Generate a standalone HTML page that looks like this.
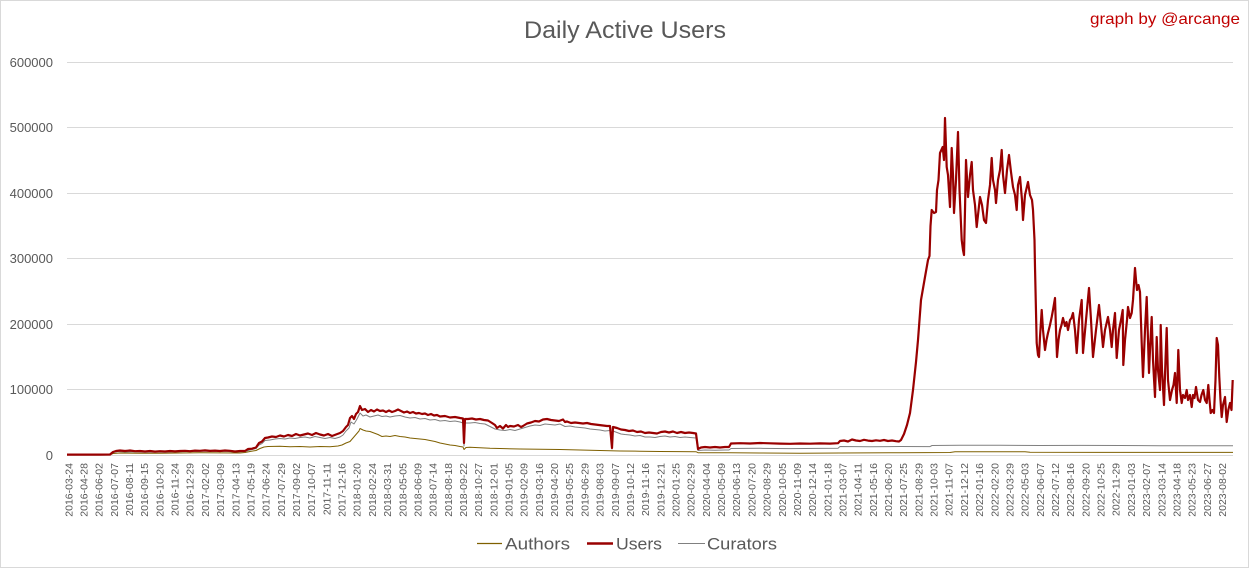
<!DOCTYPE html>
<html><head><meta charset="utf-8"><style>
html,body{margin:0;padding:0;background:#fff;}
svg{display:block;}
text{font-family:"Liberation Sans",sans-serif;}
</style></head><body>
<svg width="1249" height="568" viewBox="0 0 1249 568" xmlns="http://www.w3.org/2000/svg">
<rect x="0.5" y="0.5" width="1248" height="567" fill="#fff" stroke="#d9d9d9" stroke-width="1"/>
<text x="625" y="38" font-size="24" fill="#595959" text-anchor="middle" textLength="202" lengthAdjust="spacingAndGlyphs">Daily Active Users</text>
<text x="1090" y="24" font-size="16" fill="#c00000" textLength="150" lengthAdjust="spacingAndGlyphs">graph by @arcange</text>
<g stroke="#d9d9d9" stroke-width="1">
<line x1="67" y1="62.5" x2="1233" y2="62.5"/>
<line x1="67" y1="127.5" x2="1233" y2="127.5"/>
<line x1="67" y1="193.5" x2="1233" y2="193.5"/>
<line x1="67" y1="258.5" x2="1233" y2="258.5"/>
<line x1="67" y1="324.5" x2="1233" y2="324.5"/>
<line x1="67" y1="389.5" x2="1233" y2="389.5"/>
<line x1="67" y1="455.5" x2="1233" y2="455.5"/>
</g>
<g font-size="13" fill="#595959" text-anchor="end">
<text x="53" y="67">600000</text>
<text x="53" y="132">500000</text>
<text x="53" y="198">400000</text>
<text x="53" y="263">300000</text>
<text x="53" y="329">200000</text>
<text x="53" y="394">100000</text>
<text x="53" y="460">0</text>
</g>
<g id="xl" font-size="10.5" fill="#595959" text-anchor="end">
<text transform="translate(72.3,463) rotate(-90)">2016-03-24</text>
<text transform="translate(87.5,463) rotate(-90)">2016-04-28</text>
<text transform="translate(102.7,463) rotate(-90)">2016-06-02</text>
<text transform="translate(117.8,463) rotate(-90)">2016-07-07</text>
<text transform="translate(133.0,463) rotate(-90)">2016-08-11</text>
<text transform="translate(148.2,463) rotate(-90)">2016-09-15</text>
<text transform="translate(163.4,463) rotate(-90)">2016-10-20</text>
<text transform="translate(178.6,463) rotate(-90)">2016-11-24</text>
<text transform="translate(193.7,463) rotate(-90)">2016-12-29</text>
<text transform="translate(208.9,463) rotate(-90)">2017-02-02</text>
<text transform="translate(224.1,463) rotate(-90)">2017-03-09</text>
<text transform="translate(239.3,463) rotate(-90)">2017-04-13</text>
<text transform="translate(254.5,463) rotate(-90)">2017-05-19</text>
<text transform="translate(269.6,463) rotate(-90)">2017-06-24</text>
<text transform="translate(284.8,463) rotate(-90)">2017-07-29</text>
<text transform="translate(300.0,463) rotate(-90)">2017-09-02</text>
<text transform="translate(315.2,463) rotate(-90)">2017-10-07</text>
<text transform="translate(330.4,463) rotate(-90)">2017-11-11</text>
<text transform="translate(345.5,463) rotate(-90)">2017-12-16</text>
<text transform="translate(360.7,463) rotate(-90)">2018-01-20</text>
<text transform="translate(375.9,463) rotate(-90)">2018-02-24</text>
<text transform="translate(391.1,463) rotate(-90)">2018-03-31</text>
<text transform="translate(406.3,463) rotate(-90)">2018-05-05</text>
<text transform="translate(421.4,463) rotate(-90)">2018-06-09</text>
<text transform="translate(436.6,463) rotate(-90)">2018-07-14</text>
<text transform="translate(451.8,463) rotate(-90)">2018-08-18</text>
<text transform="translate(467.0,463) rotate(-90)">2018-09-22</text>
<text transform="translate(482.2,463) rotate(-90)">2018-10-27</text>
<text transform="translate(497.3,463) rotate(-90)">2018-12-01</text>
<text transform="translate(512.5,463) rotate(-90)">2019-01-05</text>
<text transform="translate(527.7,463) rotate(-90)">2019-02-09</text>
<text transform="translate(542.9,463) rotate(-90)">2019-03-16</text>
<text transform="translate(558.1,463) rotate(-90)">2019-04-20</text>
<text transform="translate(573.2,463) rotate(-90)">2019-05-25</text>
<text transform="translate(588.4,463) rotate(-90)">2019-06-29</text>
<text transform="translate(603.6,463) rotate(-90)">2019-08-03</text>
<text transform="translate(618.8,463) rotate(-90)">2019-09-07</text>
<text transform="translate(634.0,463) rotate(-90)">2019-10-12</text>
<text transform="translate(649.1,463) rotate(-90)">2019-11-16</text>
<text transform="translate(664.3,463) rotate(-90)">2019-12-21</text>
<text transform="translate(679.5,463) rotate(-90)">2020-01-25</text>
<text transform="translate(694.7,463) rotate(-90)">2020-02-29</text>
<text transform="translate(709.9,463) rotate(-90)">2020-04-04</text>
<text transform="translate(725.0,463) rotate(-90)">2020-05-09</text>
<text transform="translate(740.2,463) rotate(-90)">2020-06-13</text>
<text transform="translate(755.4,463) rotate(-90)">2020-07-20</text>
<text transform="translate(770.6,463) rotate(-90)">2020-08-29</text>
<text transform="translate(785.8,463) rotate(-90)">2020-10-05</text>
<text transform="translate(800.9,463) rotate(-90)">2020-11-09</text>
<text transform="translate(816.1,463) rotate(-90)">2020-12-14</text>
<text transform="translate(831.3,463) rotate(-90)">2021-01-18</text>
<text transform="translate(846.5,463) rotate(-90)">2021-03-07</text>
<text transform="translate(861.7,463) rotate(-90)">2021-04-11</text>
<text transform="translate(876.8,463) rotate(-90)">2021-05-16</text>
<text transform="translate(892.0,463) rotate(-90)">2021-06-20</text>
<text transform="translate(907.2,463) rotate(-90)">2021-07-25</text>
<text transform="translate(922.4,463) rotate(-90)">2021-08-29</text>
<text transform="translate(937.6,463) rotate(-90)">2021-10-03</text>
<text transform="translate(952.7,463) rotate(-90)">2021-11-07</text>
<text transform="translate(967.9,463) rotate(-90)">2021-12-12</text>
<text transform="translate(983.1,463) rotate(-90)">2022-01-16</text>
<text transform="translate(998.3,463) rotate(-90)">2022-02-20</text>
<text transform="translate(1013.5,463) rotate(-90)">2022-03-29</text>
<text transform="translate(1028.6,463) rotate(-90)">2022-05-03</text>
<text transform="translate(1043.8,463) rotate(-90)">2022-06-07</text>
<text transform="translate(1059.0,463) rotate(-90)">2022-07-12</text>
<text transform="translate(1074.2,463) rotate(-90)">2022-08-16</text>
<text transform="translate(1089.4,463) rotate(-90)">2022-09-20</text>
<text transform="translate(1104.5,463) rotate(-90)">2022-10-25</text>
<text transform="translate(1119.7,463) rotate(-90)">2022-11-29</text>
<text transform="translate(1134.9,463) rotate(-90)">2023-01-03</text>
<text transform="translate(1150.1,463) rotate(-90)">2023-02-07</text>
<text transform="translate(1165.3,463) rotate(-90)">2023-03-14</text>
<text transform="translate(1180.4,463) rotate(-90)">2023-04-18</text>
<text transform="translate(1195.6,463) rotate(-90)">2023-05-23</text>
<text transform="translate(1210.8,463) rotate(-90)">2023-06-27</text>
<text transform="translate(1226.0,463) rotate(-90)">2023-08-02</text>
</g>
<!-- Authors -->
<polyline fill="none" stroke="#7f6000" stroke-width="1" stroke-linejoin="round" points="67,454.8 110,454.8 113,453.5 120,453 140,453.3 160,453.2 180,453 200,452.8 220,452.9 240,453 245,452.5 250,451.5 256,450.5 260,448.5 264,447 268,446.5 280,446.3 290,446.8 300,446.5 310,447 320,446.5 330,446.8 338,446 342,445 346,443 350,441.5 353,438 356,434.5 359,431 360,428.5 363,430 366,431 370,431.5 374,433 378,434.5 382,436.5 386,436 390,436.5 395,435.5 400,436.5 405,437 410,438 415,438.5 420,439 425,439.5 430,440.5 435,441.5 440,443 445,444 450,445 455,445.5 460,446.5 463,447 464,449.5 466,447.5 470,447.2 480,447.8 490,448.3 500,448.5 520,449 540,449.2 560,449.5 580,450 600,450.5 620,451 640,451.2 660,451.5 680,451.6 696,451.7 698,452.7 730,452.8 760,453 800,453.2 840,453 900,452.7 950,452.5 955,451.8 1025,451.7 1030,452.3 1100,452.4 1233,452.4"/>
<!-- Curators -->
<polyline fill="none" stroke="#808080" stroke-width="1" stroke-linejoin="round" points="67,454.7 110,454.7 113,452.5 118,451.5 125,452 135,451.8 145,452.3 155,452 165,452.2 175,451.8 185,451.6 195,451.4 205,451.3 215,451.4 225,451.3 235,452 245,451.5 250,450 256,448.5 259,445 262,443.5 265,440.5 270,440 275,439 280,438.5 285,439 290,438 295,438.5 300,437.5 305,437 310,438 315,436.5 320,437.5 325,438.5 330,437.5 335,438.5 340,437 343,435 346,431 349,428 351,422 354,424 357,419 360,413 363,416 366,415 370,417 374,416 378,415 382,416.5 386,416 390,417 395,416 400,415.5 405,417 410,418 415,417.5 420,419 425,418.5 430,420 435,419.5 440,421 445,420.5 450,421.5 455,421 460,422 463,423 464,446 465,423 470,423 475,422.5 480,423.5 485,424 490,426.5 495,429 500,430 505,430.5 510,429.5 515,430.5 520,429 525,427.5 530,426 535,425 540,425.5 545,424 550,424.5 555,425 560,424 565,426.5 570,426 575,427 580,427.5 585,428 590,429 595,429.5 600,430 605,431 610,430.5 612,449 613,431 617,432.5 621,434 625,434.5 630,435 635,436 640,435.5 645,437 650,437 655,437.5 660,436.5 665,436 670,437 675,436.5 680,437.5 685,437 690,437.5 696,438 698,450.5 705,450 715,450.3 725,450 729,450 731,448.5 760,448.3 790,448.6 820,448.4 838,448.2 840,446.5 870,446.8 900,446.5 930,446.6 932,445.5 960,445.2 1000,445.3 1040,445.5 1080,445.4 1120,445.5 1160,445.8 1200,445.7 1233,445.8"/>
<!-- Users -->
<polyline fill="none" stroke="#990000" stroke-width="2.2" stroke-linejoin="round" points="67,454.6 100,454.6 110,454.5 113,452 116,451 120,450.5 125,451 130,450.5 135,451.2 140,451 145,451.5 150,451 155,451.6 160,451.2 165,451.5 170,451 175,451.4 180,451 185,450.8 190,451.2 195,450.6 200,450.8 205,450.4 210,450.9 215,450.6 220,451 225,450.5 230,450.8 235,451.5 240,451 245,451 248,449 252,448.7 256,447.5 259,443 262,441.5 265,438 268,437.5 272,436.5 276,437 280,435.5 284,436.5 288,435 292,436 296,434 300,435.5 304,434.5 308,433.5 312,435 316,433 320,434.5 324,435.5 328,434 332,436 336,434.5 340,433 343,431 346,427 348,425 350,418 352,416 354,419 356,414 358,412 360,406 362,410 365,409 368,412 371,410 374,411.5 377,409.5 380,411 383,410.5 386,412 389,410.5 392,412 395,411 398,409.5 401,411 404,412.5 407,411.5 410,413 413,412 416,413.5 419,413 422,414 425,413.5 428,415 431,414 434,415.5 437,415 440,416.5 445,416 450,417.5 455,417 460,418 463,418.5 464,443 465,419 468,419 472,418.5 476,419.5 480,419 484,420 488,420.5 492,423 495,425 497,428 500,426 503,428.5 506,425 508,427 510,426 514,426.5 518,425 521,427 523,426 527,423.5 531,422.5 535,421 539,421.5 543,419.5 547,419 551,420 555,420.5 559,421 563,419.5 565,422 567,421.5 571,423 575,422.5 579,423 583,423.5 587,423 591,424 595,424.5 599,425 603,425.5 607,426 610,426 612,448 613,427 617,428 621,429.5 625,430 629,431 633,430.5 637,432 641,431.5 645,433 649,432.5 653,433 657,433.5 661,432 665,431.5 669,432.5 673,431.5 677,433 681,432 685,433 689,432.5 693,433 696,433.5 698,449 701,447.5 705,447 710,447.5 715,447 720,447.5 725,447 729,447 731,443.5 740,443.2 750,443.5 760,443 770,443.3 780,443.6 790,443.8 800,443.5 810,443.7 820,443.4 830,443.6 838,443.2 840,441 844,440.5 848,441.5 852,439.5 856,440.5 860,441 864,439.8 868,440.6 872,441 876,440.3 880,440.8 884,440 888,441 892,440.5 896,441.2 899,441.5 901,440 904,434 907,425 910,413 913,390 916,362 918,340 921,300 925,277 928,260 929.5,256 930.5,226 931.7,210 934,213 936,212 937,190 938.5,180 940,153 942.7,147 944,160 945,118 946.7,167 948,175 950,207 951.7,148 953,175 954,213 956,180 958,132 959.5,190 961.7,240 963,250 964,255 965,210 966,160 968,197 970,175 971.7,162 973,190 975,205 976.7,227 978,215 980,197 982,205 984,220 986,223 988,200 990,185 991.7,158 993,180 995,190 996,203 998,180 1000,170 1001.7,150 1003,175 1005,193 1007,170 1009,155 1011,172 1013,187 1015,195 1016.7,210 1018,185 1020,177 1022,200 1023,220 1025,195 1028,182 1030,195 1032,200 1033,210 1034.5,240 1035,267 1036.7,343 1038,355 1039,357 1040,337 1041.7,310 1043,330 1045,350 1046.5,340 1048,333 1050,325 1051.7,317 1053,310 1055,298 1056,330 1057,357 1058.5,340 1060,330 1061.5,325 1063,318 1065,326 1066.5,322 1068,330 1070,320 1071.5,318 1073,313 1075,330 1076.7,353 1079,320 1081.7,300 1083,353 1086,320 1089,288 1091,320 1093,357 1096,330 1099,305 1101,325 1103,347 1105,330 1108,317 1110,330 1111.7,347 1113,330 1115,313 1116.7,358 1119,330 1121,320 1122.7,310 1123.3,365 1125,340 1127,320 1128,307 1130,318 1131.7,313 1133,300 1135,268 1136,280 1137,290 1138.5,285 1140,292 1141.7,343 1143,377 1145,330 1146.7,297 1148,340 1149,373 1150,350 1151.7,317 1153,360 1155,397 1156.7,337 1158,370 1160,390 1160.7,325 1162,370 1164,405 1165.5,360 1166.7,328 1168,380 1170,400 1172,390 1173.5,385 1175,373 1176.7,403 1178.3,350 1180,390 1181.7,403 1183,395 1185,398 1186.7,390 1188,400 1190,395 1191.7,407 1193,395 1194.5,398 1196,387 1198,400 1200,402 1201.5,395 1203.3,390 1205,400 1206.7,403 1208.3,385 1209.5,400 1210.7,413 1212.5,410 1214,413 1215.5,380 1216.7,338 1218,345 1219.3,377 1220.5,400 1221.7,417 1223,405 1225,397 1226.7,422 1228.3,410 1230,403 1231.5,410 1232.7,380"/>
<!-- Legend -->
<line x1="477" y1="543.5" x2="502" y2="543.5" stroke="#7f6000" stroke-width="1.2"/>
<text x="505" y="549.5" font-size="17" fill="#595959" textLength="65" lengthAdjust="spacingAndGlyphs">Authors</text>
<line x1="587" y1="543.5" x2="613" y2="543.5" stroke="#990000" stroke-width="2.5"/>
<text x="616" y="549.5" font-size="17" fill="#595959" textLength="46" lengthAdjust="spacingAndGlyphs">Users</text>
<line x1="678" y1="543.5" x2="705" y2="543.5" stroke="#808080" stroke-width="1"/>
<text x="707" y="549.5" font-size="17" fill="#595959" textLength="70" lengthAdjust="spacingAndGlyphs">Curators</text>
</svg>
</body></html>
